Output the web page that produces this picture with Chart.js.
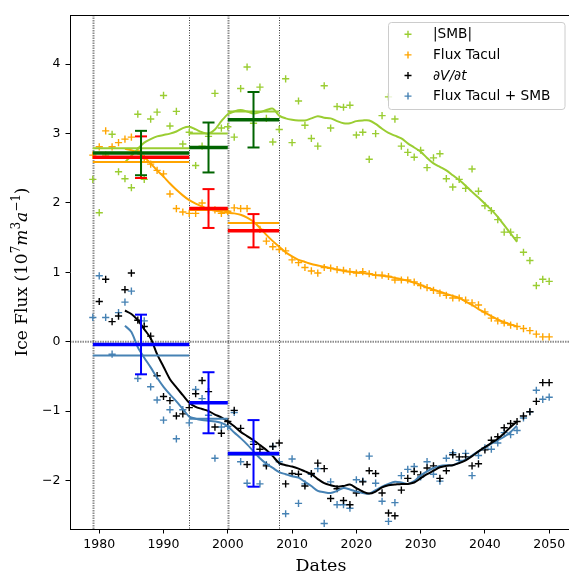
<!DOCTYPE html>
<html>
<head>
<meta charset="utf-8">
<script src="https://cdn.jsdelivr.net/npm/chart.js@4.4.1/dist/chart.umd.min.js"></script>
<style>
html, body { margin: 0; padding: 0; background: #fff; overflow: hidden; }
canvas { display: block; }
</style>
</head>
<body>
<canvas id="chart" width="580" height="573"></canvas>
<script>
// --- DATA ---
const years = [
  1979, 1980, 1981, 1982, 1983, 1984, 1985, 1986, 1987, 1988,
  1989, 1990, 1991, 1992, 1993, 1994, 1995, 1996, 1997, 1998,
  1999, 2000, 2001, 2002, 2003, 2004, 2005, 2006, 2007, 2008,
  2009, 2010, 2011, 2012, 2013, 2014, 2015, 2016, 2017, 2018,
  2019, 2020, 2021, 2022, 2023, 2024, 2025, 2026, 2027, 2028,
  2029, 2030, 2031, 2032, 2033, 2034, 2035, 2036, 2037, 2038,
  2039, 2040, 2041, 2042, 2043, 2044, 2045, 2046, 2047, 2048,
  2049, 2050
];

const smbAbs = [
  2.34, 1.86, 2.69, 2.99, 2.45, 2.35, 2.22, 3.28, 2.34, 3.21,
  3.31, 3.55, 3.11, 3.32, 2.85, 3.02, 2.54, 2.82, 2.96, 3.58,
  3.08, 3.10, 2.95, 3.65, 3.96, 3.15, 3.67, 3.22, 2.88, 3.06,
  3.79, 2.87, 3.47, 3.12, 2.93, 2.82, 3.69, 3.08, 3.39, 3.38,
  3.41, 2.98, 3.02, 2.63, 3.00, 3.26, 3.53, 3.21, 2.82, 2.73,
  2.66, 2.76, 2.51, 2.65, 2.71, 2.35, 2.23, 2.34, 2.21, 2.49,
  2.17, 1.96, 1.89, 1.76, 1.58, 1.58, 1.50, 1.29, 1.17, 0.81,
  0.90, 0.87
];

const fluxTacul = [
  2.69, 2.81, 3.04, 2.81, 2.87, 2.92, 2.95, 2.75, 2.64, 2.56,
  2.47, 2.42, 2.13, 1.92, 1.87, 1.85, 1.85, 2.00, 1.90, 1.90,
  1.85, 1.88, 1.93, 1.92, 1.92, 1.71, 1.62, 1.45, 1.37, 1.33,
  1.31, 1.18, 1.14, 1.07, 1.02, 0.99, 1.07, 1.06, 1.04, 1.03,
  1.01, 0.99, 1.01, 0.98, 0.96, 0.96, 0.94, 0.89, 0.89, 0.89,
  0.86, 0.81, 0.78, 0.74, 0.70, 0.67, 0.63, 0.63, 0.60, 0.56,
  0.53, 0.43, 0.34, 0.30, 0.27, 0.24, 0.22, 0.19, 0.16, 0.11,
  0.07, 0.07
];

const dVdt = [
  null, 0.58, 0.90, 0.29, 0.37, 0.75, 0.99, 0.31, 0.22, 0.08,
  -0.49, -0.79, -0.85, -1.07, -1.04, -0.95, -0.75, -0.56, -0.72, -1.23,
  -1.32, -1.15, -0.99, -1.25, -1.77, -1.48, -1.55, -1.79, -1.51, -1.46,
  -2.05, -1.90, -1.91, -2.08, -1.90, -1.75, -1.83, -2.26, -2.12, -2.29,
  -2.35, -2.18, -2.02, -1.86, -1.90, -2.18, -2.47, -2.51, -2.14, -1.97,
  -1.87, -1.92, -1.82, -1.79, -1.97, -1.86, -1.63, -1.66, -1.66, -1.79,
  -1.76, -1.56, -1.42, -1.37, -1.24, -1.18, -1.15, -1.07, -1.01, -0.86,
  -0.59, -0.59
];

const fluxPlusSmb = [
  0.35, 0.95, 0.35, -0.18, 0.42, 0.57, 0.73, -0.53, 0.30, -0.65,
  -0.84, -1.13, -0.98, -1.40, -0.98, -1.17, -0.69, -0.82, -1.06, -1.68,
  -1.23, -1.22, -1.02, -1.73, -2.04, -1.44, -2.05, -1.77, -1.51, -1.73,
  -2.48, -1.69, -2.33, -2.05, -1.91, -1.83, -2.62, -2.02, -2.35, -2.35,
  -2.40, -1.99, -2.01, -1.65, -2.04, -2.30, -2.59, -2.32, -1.93, -1.84,
  -1.80, -1.95, -1.73, -1.91, -2.01, -1.68, -1.60, -1.71, -1.61, -1.93,
  -1.64, -1.53, -1.55, -1.46, -1.31, -1.34, -1.28, -1.10, -1.01, -0.70,
  -0.83, -0.80
];

// smoothed curves
const smbTrend = [
  [1984, 2.59], [1985, 2.68], [1986, 2.78], [1987, 2.87], [1988, 2.92], [1989, 2.96],
  [1990, 2.98], [1991, 3.00], [1992, 3.03], [1993, 3.08], [1994, 3.10], [1995, 3.06],
  [1996, 3.02], [1997, 3.00], [1998, 3.06], [1999, 3.18], [2000, 3.28], [2001, 3.32],
  [2002, 3.34], [2003, 3.32], [2004, 3.29], [2005, 3.31], [2006, 3.34], [2007, 3.36],
  [2008, 3.26], [2009, 3.22], [2010, 3.20], [2011, 3.19], [2012, 3.19], [2013, 3.22],
  [2014, 3.25], [2015, 3.23], [2016, 3.22], [2017, 3.18], [2018, 3.15], [2019, 3.15],
  [2020, 3.18], [2021, 3.19], [2022, 3.19], [2023, 3.14], [2024, 3.07], [2025, 3.01],
  [2026, 2.97], [2027, 2.93], [2028, 2.86], [2029, 2.80], [2030, 2.74], [2031, 2.65],
  [2032, 2.57], [2033, 2.52], [2034, 2.47], [2035, 2.40], [2036, 2.33], [2037, 2.25],
  [2038, 2.16], [2039, 2.08], [2040, 1.99], [2041, 1.90], [2042, 1.80], [2043, 1.68],
  [2044, 1.56], [2045, 1.44]
];

const fluxTrend = [
  [1984, 2.78], [1985, 2.76], [1986, 2.72], [1987, 2.66], [1988, 2.57], [1989, 2.47],
  [1990, 2.38], [1991, 2.28], [1992, 2.19], [1993, 2.11], [1994, 2.04], [1995, 1.99],
  [1996, 1.95], [1997, 1.91], [1998, 1.89], [1999, 1.87], [2000, 1.86], [2001, 1.85],
  [2002, 1.83], [2003, 1.79], [2004, 1.73], [2005, 1.64], [2006, 1.54], [2007, 1.45],
  [2008, 1.37], [2009, 1.29], [2010, 1.23], [2011, 1.18], [2012, 1.15], [2013, 1.12],
  [2014, 1.10], [2015, 1.08], [2016, 1.06], [2017, 1.04], [2018, 1.02], [2019, 1.01],
  [2020, 1.00], [2021, 0.99], [2022, 0.98], [2023, 0.96], [2024, 0.95], [2025, 0.94],
  [2026, 0.92], [2027, 0.90], [2028, 0.88], [2029, 0.85], [2030, 0.82], [2031, 0.78],
  [2032, 0.75], [2033, 0.72], [2034, 0.69], [2035, 0.66], [2036, 0.63], [2037, 0.58],
  [2038, 0.53], [2039, 0.47], [2040, 0.42], [2041, 0.37], [2042, 0.32], [2043, 0.28],
  [2044, 0.25], [2045, 0.22]
];

const dVdtTrend = [
  [1984, 0.45], [1985, 0.40], [1986, 0.31], [1987, 0.18], [1988, 0.05], [1989, -0.18],
  [1990, -0.36], [1991, -0.54], [1992, -0.66], [1993, -0.77], [1994, -0.88], [1995, -0.94],
  [1996, -0.97], [1997, -1.00], [1998, -1.05], [1999, -1.09], [2000, -1.15], [2001, -1.22],
  [2002, -1.30], [2003, -1.36], [2004, -1.42], [2005, -1.49], [2006, -1.56], [2007, -1.65],
  [2008, -1.75], [2009, -1.78], [2010, -1.80], [2011, -1.83], [2012, -1.87], [2013, -1.91],
  [2014, -1.98], [2015, -2.04], [2016, -2.07], [2017, -2.09], [2018, -2.08], [2019, -2.06],
  [2020, -2.11], [2021, -2.16], [2022, -2.19], [2023, -2.16], [2024, -2.10], [2025, -2.07],
  [2026, -2.06], [2027, -2.05], [2028, -2.05], [2029, -2.03], [2030, -1.97], [2031, -1.91],
  [2032, -1.86], [2033, -1.81], [2034, -1.79], [2035, -1.78], [2036, -1.75], [2037, -1.71],
  [2038, -1.65], [2039, -1.58], [2040, -1.52], [2041, -1.46], [2042, -1.40], [2043, -1.32],
  [2044, -1.23], [2045, -1.15]
];

const sumTrend = [
  [1984, 0.23], [1985, 0.14], [1986, -0.08], [1987, -0.23], [1988, -0.37], [1989, -0.52],
  [1990, -0.65], [1991, -0.76], [1992, -0.86], [1993, -0.97], [1994, -1.08], [1995, -1.11],
  [1996, -1.13], [1997, -1.14], [1998, -1.15], [1999, -1.17], [2000, -1.22], [2001, -1.31],
  [2002, -1.39], [2003, -1.48], [2004, -1.58], [2005, -1.68], [2006, -1.76], [2007, -1.82],
  [2008, -1.88], [2009, -1.91], [2010, -1.94], [2011, -1.96], [2012, -2.02], [2013, -2.08],
  [2014, -2.15], [2015, -2.17], [2016, -2.18], [2017, -2.15], [2018, -2.11], [2019, -2.13],
  [2020, -2.16], [2021, -2.18], [2022, -2.19], [2023, -2.14], [2024, -2.09], [2025, -2.05],
  [2026, -2.02], [2027, -2.03], [2028, -2.05], [2029, -2.01], [2030, -1.93], [2031, -1.87],
  [2032, -1.82], [2033, -1.79], [2034, -1.78], [2035, -1.78], [2036, -1.74], [2037, -1.70],
  [2038, -1.64], [2039, -1.58], [2040, -1.53], [2041, -1.47], [2042, -1.42], [2043, -1.37],
  [2044, -1.30], [2045, -1.21]
];

// survey periods
const periodStart = [1979, 1994, 2000];
const periodEnd = [1994, 2000, 2008];

const smbModel = [2.79, 3.00, 3.32];
const fluxModel = [2.59, 1.90, 1.71];
const sumModel = [-0.20, -1.11, -1.63];

const smbObs = [2.72, 2.80, 3.20];
const smbObsErr = [0.32, 0.36, 0.40];
const fluxObs = [2.66, 1.92, 1.60];
const fluxObsErr = [0.30, 0.28, 0.24];
const dVdtObs = [-0.04, -0.88, -1.61];
const dVdtObsErr = [0.43, 0.44, 0.48];

const xTicks = [1980, 1990, 2000, 2010, 2020, 2030, 2040, 2050];
const yTicks = [-2, -1, 0, 1, 2, 3, 4];

const seriesLabels = ['|SMB|', 'Flux Tacul', '\u2202V/\u2202t', 'Flux Tacul + SMB'];
const seriesColors = ['#9acd32', '#ffa500', '#000000', '#4682b4'];

// --- HELPERS ---
const pts = (xs, ys) => xs.map((x, i) => ({ x, y: ys[i] }));
const trend = arr => arr.map(([x, y]) => ({ x, y }));

function periodSegs(vals) {
  const out = [];
  vals.forEach((v, i) => {
    out.push({ x: periodStart[i], y: v }, { x: periodEnd[i], y: v }, { x: periodEnd[i], y: null });
  });
  return out;
}

function errSegs(vals, errs) {
  const out = [];
  vals.forEach((v, i) => {
    const mid = (periodStart[i] + periodEnd[i]) / 2;
    out.push({ x: mid, y: v - errs[i] }, { x: mid, y: v + errs[i] }, { x: mid, y: null });
  });
  return out;
}

function scatterSet(i, values) {
  return {
    data: pts(years, values), showLine: false,
    pointStyle: 'cross', pointRadius: 3.6, pointBorderWidth: 1.4,
    borderColor: seriesColors[i], backgroundColor: seriesColors[i], order: 50 + i
  };
}

function lineSet(data, color, width, order) {
  return {
    data, showLine: true, pointRadius: 0, borderColor: color, borderWidth: width,
    tension: 0.3, fill: false, spanGaps: false, order
  };
}

function errSet(vals, errs, color, order) {
  return {
    data: errSegs(vals, errs), showLine: true, spanGaps: false,
    borderColor: color, borderWidth: 2, pointStyle: 'line', pointRadius: 6,
    pointBorderWidth: 2, pointBorderColor: color, order
  };
}

// --- PLUGIN: dotted guides, legend, titles ---
const extras = {
  id: 'extras',
  beforeDatasetsDraw(chart) {
    const { ctx, chartArea: a, scales: { x, y } } = chart;
    ctx.save();
    ctx.beginPath();
    ctx.rect(a.left, a.top, a.right - a.left, a.bottom - a.top);
    ctx.clip();

    // zero line
    ctx.strokeStyle = 'rgba(0,0,0,0.45)';
    ctx.lineWidth = 2;
    ctx.setLineDash([1.5, 1]);
    ctx.beginPath();
    ctx.moveTo(a.left, y.getPixelForValue(0));
    ctx.lineTo(a.right, y.getPixelForValue(0));
    ctx.stroke();

    // period boundaries
    const bounds = [...new Set([...periodStart, ...periodEnd])];
    bounds.forEach(b => {
      const grey = periodStart.includes(b) && !periodEnd.includes(b) || b === 2000;
      ctx.strokeStyle = grey ? 'rgba(0,0,0,0.45)' : '#000';
      ctx.lineWidth = grey ? 2 : 0.8;
      ctx.setLineDash(grey ? [1.5, 1] : [1, 1.5]);
      const px = Math.round(x.getPixelForValue(b)) + 0.5;
      ctx.beginPath();
      ctx.moveTo(px, a.top);
      ctx.lineTo(px, a.bottom);
      ctx.stroke();
    });
    ctx.restore();
  },
  afterDraw(chart) {
    const { ctx, chartArea: a } = chart;
    ctx.save();

    // top spine
    ctx.strokeStyle = '#000';
    ctx.lineWidth = 1;
    ctx.beginPath();
    ctx.moveTo(a.left, Math.round(a.top) + 0.5);
    ctx.lineTo(a.right, Math.round(a.top) + 0.5);
    ctx.stroke();

    // legend
    ctx.fillStyle = 'rgba(255,255,255,0.8)';
    ctx.strokeStyle = '#cccccc';
    ctx.beginPath();
    ctx.roundRect(388.5, 22.5, 176.5, 87, 3);
    ctx.fill();
    ctx.stroke();
    seriesLabels.forEach((lab, i) => {
      const cy = 34.3 + i * 20.6;
      ctx.strokeStyle = seriesColors[i];
      ctx.lineWidth = 1.4;
      ctx.beginPath();
      ctx.moveTo(404.5, cy); ctx.lineTo(411.5, cy);
      ctx.moveTo(408, cy - 3.5); ctx.lineTo(408, cy + 3.5);
      ctx.stroke();
      ctx.fillStyle = '#000';
      ctx.font = (i === 2 ? 'italic ' : '') + '13.7px "DejaVu Sans"';
      ctx.textBaseline = 'middle';
      ctx.fillText(lab, 433, cy + 0.5);
    });

    // x title
    ctx.fillStyle = '#000';
    ctx.font = '17.5px "DejaVu Serif"';
    ctx.textAlign = 'center';
    ctx.textBaseline = 'alphabetic';
    ctx.fillText('Dates', (a.left + a.right) / 2, 571);

    // y title with superscripts
    const big = '17px "DejaVu Serif"', it = 'italic 17px "DejaVu Serif"', sup = '12px "DejaVu Serif"';
    const parts = [
      ['Ice Flux (10', big, 0], ['7', sup, -7], ['m', it, 0], ['3', sup, -7],
      ['a', it, 0], ['\u22121', sup, -7], [')', big, 0]
    ];
    ctx.translate(27, (a.top + a.bottom) / 2);
    ctx.rotate(-Math.PI / 2);
    ctx.textAlign = 'left';
    let total = 0;
    parts.forEach(p => { ctx.font = p[1]; total += ctx.measureText(p[0]).width; });
    let cx = -total / 2;
    parts.forEach(p => {
      ctx.font = p[1];
      ctx.fillText(p[0], cx, p[2]);
      cx += ctx.measureText(p[0]).width;
    });
    ctx.restore();
  }
};

// --- CHART ---
const datasets = [
  scatterSet(0, smbAbs),
  scatterSet(1, fluxTacul),
  scatterSet(2, dVdt),
  scatterSet(3, fluxPlusSmb),
  lineSet(trend(smbTrend), seriesColors[0], 2, 40),
  lineSet(trend(fluxTrend), seriesColors[1], 2, 41),
  lineSet(trend(dVdtTrend), seriesColors[2], 2, 42),
  lineSet(trend(sumTrend), seriesColors[3], 2, 43),
  lineSet(periodSegs(smbModel), seriesColors[0], 2, 30),
  lineSet(periodSegs(fluxModel), seriesColors[1], 2, 31),
  lineSet(periodSegs(sumModel), seriesColors[3], 2, 32),
  lineSet(periodSegs(fluxObs), '#ff0000', 3.5, 22),
  lineSet(periodSegs(smbObs), '#006400', 3.5, 21),
  lineSet(periodSegs(dVdtObs), '#0000ff', 3.5, 20),
  errSet(fluxObs, fluxObsErr, '#ff0000', 12),
  errSet(smbObs, smbObsErr, '#006400', 11),
  errSet(dVdtObs, dVdtObsErr, '#0000ff', 10)
];
datasets.slice(8).forEach(d => { d.tension = 0; });

new Chart(document.getElementById('chart'), {
  type: 'scatter',
  data: { datasets },
  options: {
    responsive: false,
    animation: false,
    events: [],
    layout: { padding: { top: 15, right: 8, left: 0, bottom: 0 } },
    plugins: { legend: { display: false }, tooltip: { enabled: false } },
    scales: {
      x: {
        type: 'linear', min: 1975.45, max: 2053.55,
        afterBuildTicks: s => { s.ticks = xTicks.map(v => ({ value: v })); },
        afterFit: s => { s.height = 44; },
        grid: { drawOnChartArea: false, drawTicks: true, tickLength: 4.5, color: '#000' },
        border: { display: true, color: '#000', width: 1 },
        ticks: {
          color: '#000', font: { family: 'DejaVu Sans', size: 12.5 }, padding: 4,
          maxRotation: 0, autoSkip: false, callback: v => String(v)
        }
      },
      y: {
        type: 'linear', min: -2.70, max: 4.71,
        afterBuildTicks: s => { s.ticks = yTicks.map(v => ({ value: v })); },
        afterFit: s => { s.width = 70; },
        grid: { drawOnChartArea: false, drawTicks: true, tickLength: 4.5, color: '#000' },
        border: { display: true, color: '#000', width: 1 },
        ticks: {
          color: '#000', font: { family: 'DejaVu Sans', size: 12.5 }, padding: 5,
          callback: v => v < 0 ? '\u2212' + Math.abs(v) : String(v)
        }
      }
    }
  },
  plugins: [extras]
});
</script>
</body>
</html>
